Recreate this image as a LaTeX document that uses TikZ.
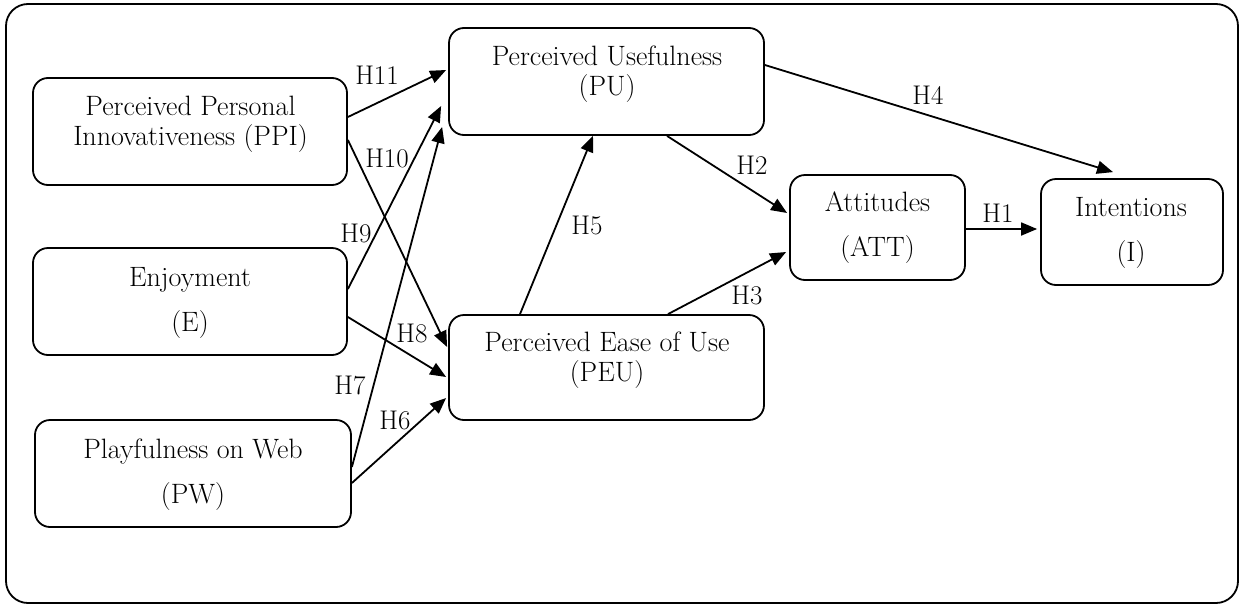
\documentclass[tikz,border=0pt]{standalone}
\usetikzlibrary{arrows.meta}
\begin{document}
\begin{tikzpicture}[x=1pt,y=-1pt,
  frame/.style={draw, line width=1.8pt, rounded corners=22pt, inner sep=0pt},
  box/.style={draw, line width=1.8pt, rounded corners=15pt, inner sep=0pt},
  txt/.style={align=center, inner sep=0pt, font=\fontsize{28}{30}\selectfont},
  txtw/.style={align=center, inner sep=0pt, font=\fontsize{28}{45}\selectfont},
  lbl/.style={inner sep=0pt, font=\fontsize{27}{30}\selectfont},
  arr/.style={line width=1.8pt, -{Triangle[length=16pt,width=13pt]}}]
\useasboundingbox (0,0) rectangle (1246,605);
\node[frame, minimum width=1232pt, minimum height=599pt] (frame) at (622,303.5) {};
% boxes
\node[box, minimum width=314pt, minimum height=107pt] (ppi) at (190,131.5) {};
\node[box, minimum width=314pt, minimum height=107pt] (enj) at (190,301.5) {};
\node[box, minimum width=316pt, minimum height=107pt] (pw) at (193,473.5) {};
\node[box, minimum width=315pt, minimum height=107pt] (pu) at (606.5,81.5) {};
\node[box, minimum width=315pt, minimum height=105pt] (peu) at (606.5,367.5) {};
\node[box, minimum width=175pt, minimum height=105pt] (att) at (877.5,227.5) {};
\node[box, minimum width=182pt, minimum height=106pt] (intn) at (1132,232) {};
% texts
\node[txt] (ppit) at (190.5,124) {Perceived Personal\\Innovativeness (PPI)};
\node[txtw] (enjt) at (190,302.5) {Enjoyment\\(E)};
\node[txtw] (pwt) at (193,474.5) {Playfulness on Web\\(PW)};
\node[txt] (put) at (607,74.5) {Perceived Usefulness\\(PU)};
\node[txt] (peut) at (607,360) {Perceived Ease of Use\\(PEU)};
\node[txtw] (attt) at (877.5,227.5) {Attitudes\\(ATT)};
\node[txtw] (intt) at (1131,232.5) {Intentions\\(I)};
% arrows
\draw[arr] ([yshift=14.5pt]ppi.east) -- ([yshift=11.5pt,xshift=-2pt]pu.west);
\draw[arr] ([yshift=-8.5pt]ppi.east) -- ([yshift=20.5pt,xshift=-1pt]peu.west);
\draw[arr] ([yshift=12.5pt]enj.east) -- ([xshift=-7pt,yshift=-24.5pt]pu.west);
\draw[arr] ([yshift=-15.5pt]enj.east) -- ([xshift=-2pt,yshift=-9.5pt]peu.west);
\draw[arr] ([yshift=6.5pt]pw.east) -- ([xshift=-6pt,yshift=-45.5pt]pu.west);
\draw[arr] ([yshift=-9.5pt]pw.east) -- ([xshift=-2pt,yshift=-30.5pt]peu.west);
\draw[arr] ([xshift=-86.5pt]peu.north) -- ([xshift=-13.5pt]pu.south);
\draw[arr] ([xshift=60.5pt]pu.south) -- ([xshift=-2pt,yshift=14.5pt]att.west);
\draw[arr] ([xshift=61.5pt]peu.north) -- ([xshift=-3pt,yshift=-24.5pt]att.west);
\draw[arr] ([yshift=16.5pt]pu.east) -- ([xshift=-19pt,yshift=6pt]intn.north);
\draw[arr] ([yshift=-1.5pt]att.east) -- ([xshift=-3pt,yshift=3pt]intn.west);
% labels
\node[lbl] (l11) at (377,75) {H11};
\node[lbl] (l10) at (387,158) {H10};
\node[lbl] (l9) at (356,233) {H9};
\node[lbl] (l8) at (412,333) {H8};
\node[lbl] (l7) at (350,385) {H7};
\node[lbl] (l6) at (395,420) {H6};
\node[lbl] (l5) at (587,225) {H5};
\node[lbl] (l2) at (752,165) {H2};
\node[lbl] (l3) at (747,295) {H3};
\node[lbl] (l4) at (928,95) {H4};
\node[lbl] (l1) at (998,213) {H1};
\end{tikzpicture}
\end{document}
